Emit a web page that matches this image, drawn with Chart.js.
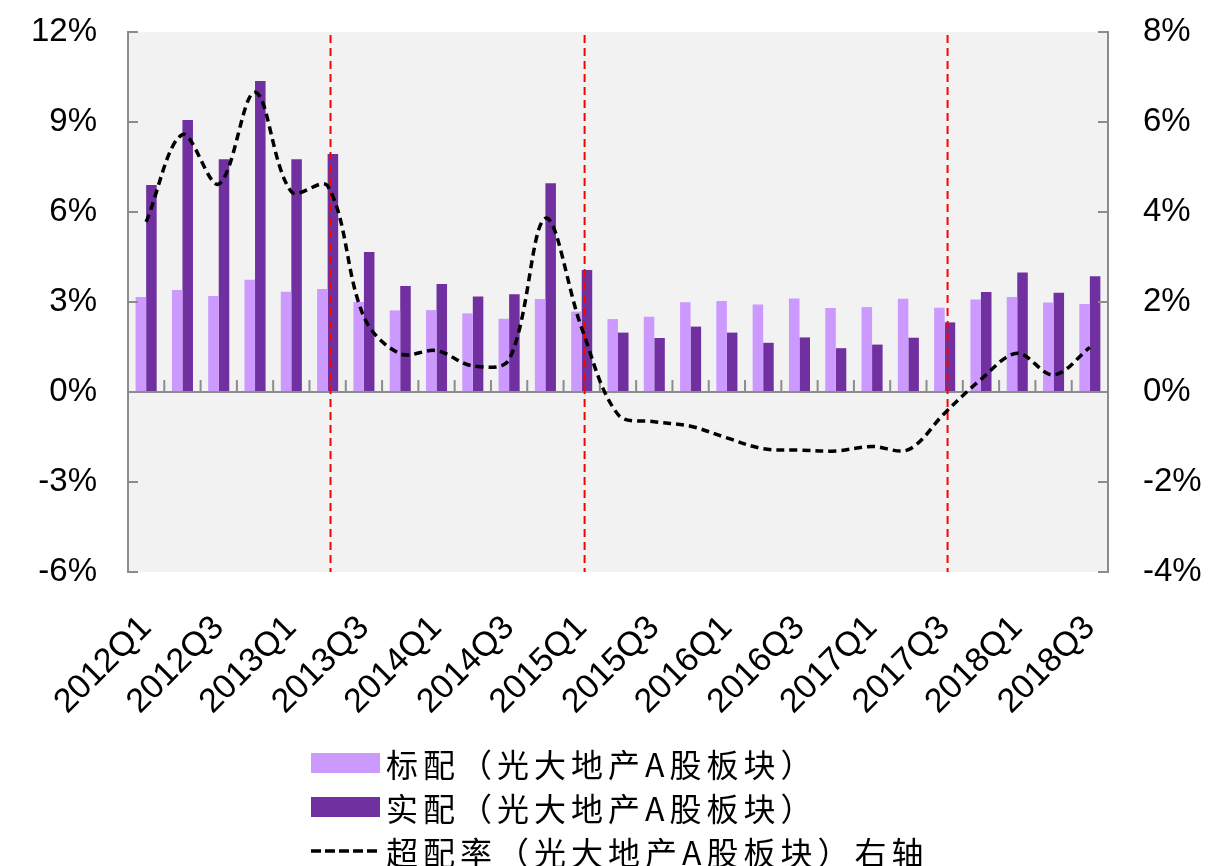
<!DOCTYPE html>
<html>
<head>
<meta charset="utf-8">
<title>光大地产A股板块 配置</title>
<script src="https://cdn.jsdelivr.net/npm/chart.js@4.4.0/dist/chart.umd.min.js"></script>
<style>
  html, body { margin: 0; padding: 0; background: #fff; }
  #wrap { position: relative; width: 1212px; height: 866px; }
  #chart { position: absolute; left: 0; top: 0; }
  #legend {
    position: absolute; left: 311px; top: 741px;
    font-family: "Noto Sans CJK SC", sans-serif; font-size: 32px;
    letter-spacing: 5px; color: #000; line-height: 44px;
  }
  .row { height: 44px; display: flex; align-items: center; white-space: nowrap; }
  .sw { width: 69px; height: 20px; margin-right: 6px; flex: none; }
  .ln { width: 69px; height: 8px; margin-right: 6px; flex: none; display: block; }
</style>
</head>
<body>
<div id="wrap">
  <canvas id="chart" width="1212" height="866"></canvas>
  <div id="legend"></div>
</div>
<script>
// Quarters on the category axis
const quarters = ['2012Q1','2012Q2','2012Q3','2012Q4','2013Q1','2013Q2','2013Q3','2013Q4',
  '2014Q1','2014Q2','2014Q3','2014Q4','2015Q1','2015Q2','2015Q3','2015Q4',
  '2016Q1','2016Q2','2016Q3','2016Q4','2017Q1','2017Q2','2017Q3','2017Q4',
  '2018Q1','2018Q2','2018Q3'];

// 标配 (benchmark weight), %
const benchmarkWeight = [3.17, 3.40, 3.20, 3.74, 3.34, 3.43, 3.00, 2.72, 2.73, 2.62, 2.44, 3.10,
  2.68, 2.43, 2.51, 2.99, 3.03, 2.92, 3.12, 2.80, 2.83, 3.11, 2.81, 3.08, 3.17, 2.98, 2.93];

// 实配 (actual weight), %
const actualWeight = [6.90, 9.07, 7.76, 10.37, 7.76, 7.93, 4.67, 3.53, 3.60, 3.18, 3.26, 6.96,
  4.07, 1.98, 1.80, 2.18, 1.98, 1.64, 1.82, 1.46, 1.58, 1.81, 2.32, 3.33, 3.98, 3.31, 3.86];

// 超配率 (overweight ratio, right axis), %
const overweightRatio = [3.78, 5.72, 4.62, 6.66, 4.45, 4.58, 1.67, 0.85, 0.92, 0.58, 0.72, 3.86,
  1.42, -0.50, -0.66, -0.76, -1.02, -1.26, -1.29, -1.31, -1.21, -1.28, -0.47, 0.28, 0.86, 0.38, 0.99];

// Quarters marked with red dashed dividers
const markerQuarters = ['2013Q2', '2015Q1', '2017Q3'];

// Axis ranges
const leftAxis = { min: -6, max: 12, step: 3 };
const rightAxis = { min: -4, max: 8, step: 2 };

const seriesNames = ['标配（光大地产A股板块）', '实配（光大地产A股板块）', '超配率（光大地产A股板块）右轴'];
const colors = { light: '#CC99FF', dark: '#7030A0', line: '#000000', axis: '#8C8C8C', marker: '#FF0000', plotBg: '#F2F2F2' };

const decor = {
  id: 'decor',
  beforeDraw(chart) {
    const { ctx, chartArea: a } = chart;
    ctx.save();
    ctx.fillStyle = colors.plotBg;
    ctx.fillRect(a.left, a.top, a.right - a.left, a.bottom - a.top);
    ctx.restore();
  },
  beforeDatasetDraw(chart, args) {
    if (args.index !== 2) return;
    const { ctx, chartArea: a, scales } = chart;
    const x = scales.x, y = scales.y;
    const y0 = y.getPixelForValue(0);
    ctx.save();
    // zero line
    ctx.strokeStyle = colors.axis;
    ctx.lineWidth = 2;
    ctx.beginPath();
    ctx.moveTo(a.left, y0);
    ctx.lineTo(a.right, y0);
    ctx.stroke();
    // category boundary ticks
    for (let i = 1; i < quarters.length; i++) {
      const bx = (x.getPixelForValue(i - 1) + x.getPixelForValue(i)) / 2;
      ctx.beginPath();
      ctx.moveTo(bx, y0);
      ctx.lineTo(bx, y0 - 12);
      ctx.stroke();
    }
    // red dividers
    ctx.strokeStyle = colors.marker;
    ctx.lineWidth = 2;
    ctx.setLineDash([8, 5]);
    const w = x.getPixelForValue(1) - x.getPixelForValue(0);
    markerQuarters.forEach(q => {
      const px = x.getPixelForValue(quarters.indexOf(q)) + w * 0.08;
      ctx.beginPath();
      ctx.moveTo(px, a.top + 3);
      ctx.lineTo(px, a.bottom);
      ctx.stroke();
    });
    ctx.restore();
  },
  afterDraw(chart) {
    const { ctx, chartArea: a, scales } = chart;
    ctx.save();
    ctx.strokeStyle = colors.axis;
    ctx.lineWidth = 2;
    scales.y.ticks.forEach(t => {
      const py = scales.y.getPixelForValue(t.value);
      ctx.beginPath(); ctx.moveTo(a.left, py); ctx.lineTo(a.left + 10, py); ctx.stroke();
    });
    scales.y1.ticks.forEach(t => {
      const py = scales.y1.getPixelForValue(t.value);
      ctx.beginPath(); ctx.moveTo(a.right - 10, py); ctx.lineTo(a.right, py); ctx.stroke();
    });
    ctx.restore();
  }
};

const tickFont = { family: '"Liberation Sans", Arial, sans-serif', size: 33 };

// fixed axis boxes so the plot area sits where intended
function fixBox(size, horizontal) {
  return s => {
    if (horizontal) s.height = size; else s.width = size;
    s.paddingTop = 0; s.paddingBottom = 0; s.paddingLeft = 0; s.paddingRight = 0;
  };
}

const chart = new Chart(document.getElementById('chart'), {
  type: 'bar',
  data: {
    labels: quarters,
    datasets: [
      { label: seriesNames[0], data: benchmarkWeight, backgroundColor: colors.light, yAxisID: 'y', order: 1,
        categoryPercentage: 0.58, barPercentage: 1.0 },
      { label: seriesNames[1], data: actualWeight, backgroundColor: colors.dark, yAxisID: 'y', order: 1,
        categoryPercentage: 0.58, barPercentage: 1.0 },
      { type: 'line', label: seriesNames[2], data: overweightRatio, yAxisID: 'y1', order: 0,
        borderColor: colors.line, borderWidth: 3.5, borderDash: [8, 5], pointRadius: 0,
        tension: 0.35, fill: false }
    ]
  },
  options: {
    responsive: false,
    animation: false,
    devicePixelRatio: 1,
    layout: { padding: { top: 32, left: 0, right: 0, bottom: 0 } },
    plugins: { legend: { display: false }, tooltip: { enabled: false } },
    scales: {
      x: {
        grid: { display: false },
        border: { display: false },
        ticks: {
          autoSkip: false, minRotation: 45, maxRotation: 45, padding: 28,
          color: '#000', font: { family: tickFont.family, size: 34 },
          callback: (v, i) => (i % 2 === 0 ? quarters[i] : '')
        },
        afterFit: fixBox(294, true)
      },
      y: {
        position: 'left', min: leftAxis.min, max: leftAxis.max,
        grid: { drawOnChartArea: false, drawTicks: false },
        border: { display: true, color: colors.axis, width: 2 },
        ticks: { stepSize: leftAxis.step, padding: 31, color: '#000', font: tickFont, callback: v => v + '%' },
        afterFit: fixBox(128, false)
      },
      y1: {
        position: 'right', min: rightAxis.min, max: rightAxis.max,
        grid: { drawOnChartArea: false, drawTicks: false },
        border: { display: true, color: colors.axis, width: 2 },
        ticks: { stepSize: rightAxis.step, padding: 35, color: '#000', font: tickFont, callback: v => v + '%' },
        afterFit: fixBox(104, false)
      }
    }
  },
  plugins: [decor]
});

// Legend built from the chart's datasets
const legend = document.getElementById('legend');
chart.data.datasets.forEach(ds => {
  const row = document.createElement('div');
  row.className = 'row';
  if (ds.type === 'line') {
    row.innerHTML = '<svg class="ln" width="69" height="8"><line x1="0" y1="4" x2="69" y2="4" stroke="' +
      ds.borderColor + '" stroke-width="3.5" stroke-dasharray="10 4"/></svg>';
  } else {
    row.innerHTML = '<span class="sw" style="background:' + ds.backgroundColor + '"></span>';
  }
  const t = document.createElement('span');
  t.textContent = ds.label;
  row.appendChild(t);
  legend.appendChild(row);
});
</script>
</body>
</html>
